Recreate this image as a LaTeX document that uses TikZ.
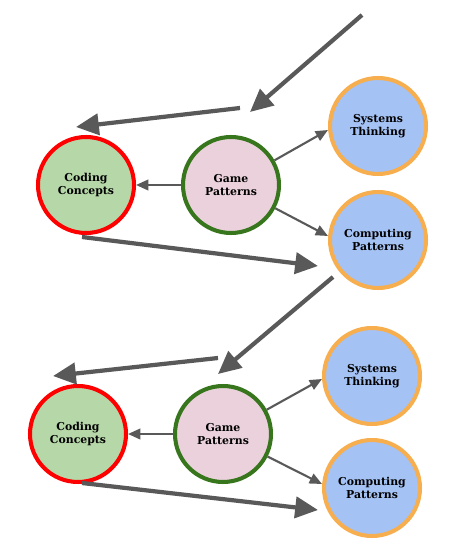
\documentclass[tikz,border=0pt]{standalone}
\usepackage{fontspec}
\setmainfont{DejaVu Serif}
\usetikzlibrary{arrows.meta}
\definecolor{codefill}{HTML}{B6D7A8}
\definecolor{codeline}{HTML}{FF0000}
\definecolor{gamefill}{HTML}{EAD1DC}
\definecolor{gameline}{HTML}{38761D}
\definecolor{compfill}{HTML}{A4C2F4}
\definecolor{compline}{HTML}{F6AE4E}
\definecolor{arrowgray}{HTML}{595959}
\tikzset{
  topic/.style={circle,line width=2.3pt,minimum size=1.92cm,inner sep=0pt,
    align=center,font=\bfseries\fontsize{6.2}{7.2}\selectfont},
  coding/.style={topic,draw=codeline,fill=codefill},
  game/.style={topic,draw=gameline,fill=gamefill},
  comp/.style={topic,draw=compline,fill=compfill},
  thin/.style={draw=arrowgray,line width=1.2pt,-{Triangle[length=7pt,width=6pt]}},
  thick/.style={draw=arrowgray,line width=2.4pt,-{Triangle[length=13pt,width=12pt]}}
}
\begin{document}
\begin{tikzpicture}[x=0.02cm,y=-0.02cm]
\useasboundingbox (0,0) rectangle (462,540);
% first loop
\node[coding] (cc1) at (86,185) {Coding\\Concepts};
\node[game] (gp1) at (231,185) {Game\\Patterns};
\node[comp] (st1) at (378,126) {Systems\\Thinking};
\node[comp] (cp1) at (378,240) {Computing\\Patterns};
\coordinate (in1) at (362,15);
\coordinate (in1end) at (250,112);
\coordinate (back1) at (240,108);
\coordinate (back1end) at (76,127);
\coordinate (out1) at (82,237);
\coordinate (out1end) at (318,266);
\draw[thick] (in1) -- (in1end);
\draw[thick] (back1) -- (back1end);
\draw[thin] (gp1) -- (st1.west |- 0,130);
\draw[thin] (gp1) -- (cc1);
\draw[thin] (gp1) -- (cp1.west |- 0,236);
\draw[thick] (out1) -- (out1end);
% second loop
\node[coding] (cc2) at (78,434) {Coding\\Concepts};
\node[game] (gp2) at (223,434) {Game\\Patterns};
\node[comp] (st2) at (372,376) {Systems\\Thinking};
\node[comp] (cp2) at (372,488) {Computing\\Patterns};
\coordinate (in2) at (333,277);
\coordinate (in2end) at (218,374);
\coordinate (back2) at (218,358);
\coordinate (back2end) at (53,376);
\coordinate (out2) at (82,483);
\coordinate (out2end) at (318,510);
\draw[thick] (in2) -- (in2end);
\draw[thick] (back2) -- (back2end);
\draw[thin] (gp2) -- (st2.west |- 0,379);
\draw[thin] (gp2) -- (cc2);
\draw[thin] (gp2) -- (cp2.west |- 0,484);
\draw[thick] (out2) -- (out2end);
\end{tikzpicture}
\end{document}
